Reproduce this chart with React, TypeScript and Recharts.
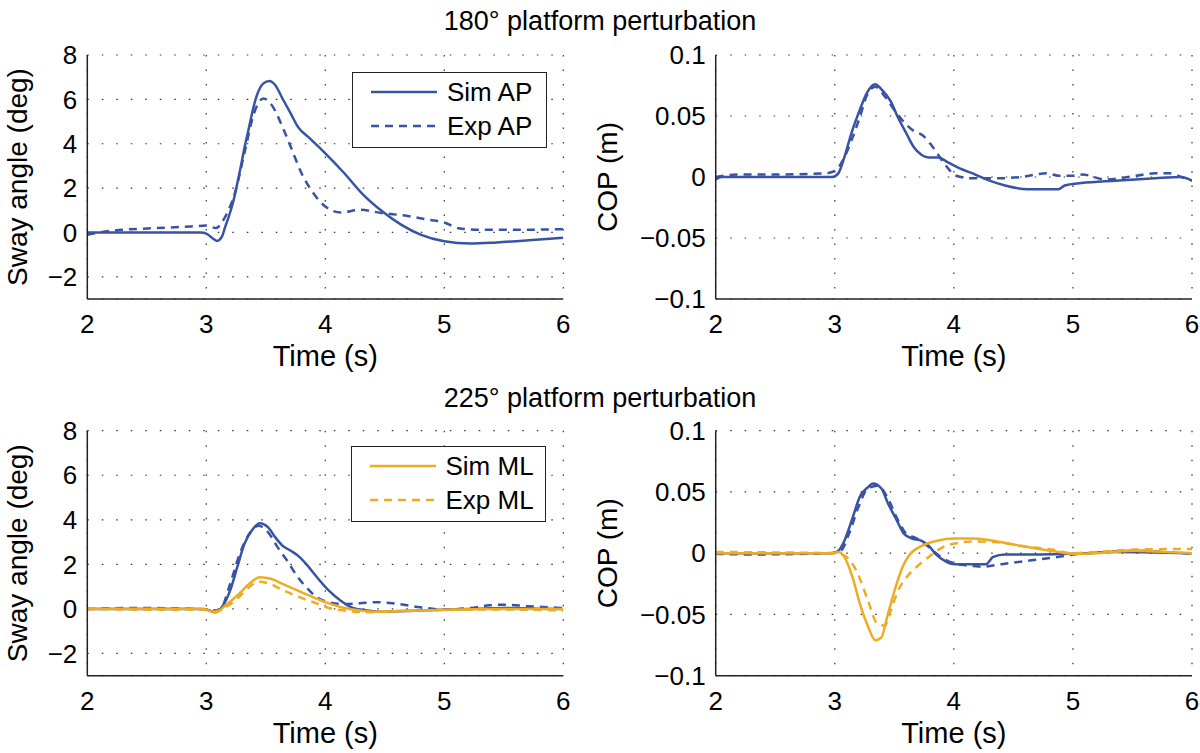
import { LineChart, Line, XAxis, YAxis, CartesianGrid, Legend } from "recharts";

const FONT = '"Liberation Sans", Arial, Helvetica, sans-serif';
const BLUE = "#3953a4";
const ORANGE = "#eeac24";
const INK = "#222";

const timeTicks = [2, 3, 4, 5, 6];
const swayTicks = [-2, 0, 2, 4, 6, 8];
const copTicks = [-0.1, -0.05, 0, 0.05, 0.1];

type Pt = [number, number];

// 180 deg perturbation: sway angle (deg)
const simAP180: Pt[] = [
  [2, 0], [2.5, 0], [2.95, 0], [3.0, -0.05], [3.05, -0.25], [3.09, -0.38], [3.13, -0.2],
  [3.16, 0.27], [3.2, 0.9], [3.23, 1.47], [3.26, 2.2], [3.29, 2.97], [3.32, 3.8], [3.36, 4.76],
  [3.39, 5.5], [3.42, 6.1], [3.45, 6.5], [3.48, 6.72], [3.53, 6.83], [3.58, 6.64], [3.64, 6.04],
  [3.71, 5.36], [3.77, 4.76], [3.87, 4.24], [4.0, 3.57], [4.16, 2.67], [4.32, 1.69], [4.48, 0.94],
  [4.64, 0.34], [4.8, -0.1], [5.0, -0.4], [5.22, -0.5], [5.44, -0.45], [5.77, -0.33], [6.0, -0.24],
];
const expAP180: Pt[] = [
  [2, -0.1], [2.1, 0], [2.23, 0.09], [2.55, 0.19], [2.87, 0.27], [3.0, 0.31], [3.08, 0.2],
  [3.16, 0.72], [3.24, 1.77], [3.32, 3.57], [3.4, 5.36], [3.48, 6.04], [3.56, 5.66], [3.64, 4.76],
  [3.72, 3.72], [3.8, 2.67], [3.9, 1.77], [4.0, 1.17], [4.13, 0.9], [4.29, 1.02], [4.48, 0.87],
  [4.67, 0.76], [4.87, 0.57], [5.0, 0.45], [5.12, 0.19], [5.28, 0.12], [5.6, 0.12], [6.0, 0.15],
];

// 180 deg perturbation: COP (m)
const simCOP180: Pt[] = [
  [2, -0.002], [2.05, 0], [2.5, 0], [2.98, 0], [3.03, 0.003], [3.08, 0.016], [3.14, 0.036],
  [3.21, 0.055], [3.27, 0.069], [3.34, 0.076], [3.4, 0.071], [3.47, 0.062], [3.53, 0.049],
  [3.6, 0.036], [3.66, 0.025], [3.73, 0.018], [3.79, 0.016], [3.87, 0.016], [3.95, 0.012],
  [4.05, 0.007], [4.18, 0.002], [4.3, -0.003], [4.43, -0.007], [4.62, -0.01], [4.88, -0.01],
  [4.93, -0.007], [5.07, -0.005], [5.36, -0.003], [5.69, -0.001], [5.91, 0], [6, -0.003],
];
const expCOP180: Pt[] = [
  [2, 0], [2.18, 0.002], [2.47, 0.002], [2.92, 0.003], [3.0, 0.005], [3.08, 0.016], [3.14, 0.03],
  [3.21, 0.049], [3.27, 0.067], [3.34, 0.074], [3.42, 0.066], [3.5, 0.055], [3.6, 0.043],
  [3.66, 0.038], [3.74, 0.034], [3.82, 0.025], [3.92, 0.011], [4.02, 0.001], [4.14, -0.001],
  [4.4, -0.001], [4.56, 0], [4.78, 0.003], [4.88, 0.001], [5.0, 0.001], [5.08, 0.002],
  [5.27, -0.002], [5.53, 0.001], [5.69, 0.003], [5.81, 0.003], [5.91, 0], [6, -0.003],
];

// 225 deg perturbation: sway angle (deg)
const simAP225: Pt[] = [
  [2, 0], [2.5, 0], [2.97, 0], [3.0, -0.03], [3.08, -0.15], [3.13, 0.07], [3.2, 0.82],
  [3.26, 1.87], [3.32, 2.91], [3.39, 3.58], [3.45, 3.85], [3.52, 3.66], [3.58, 3.21],
  [3.64, 2.84], [3.71, 2.61], [3.77, 2.39], [3.84, 2.01], [3.93, 1.42], [4.03, 0.82],
  [4.13, 0.37], [4.22, 0.07], [4.35, -0.07], [4.48, -0.13], [4.8, -0.07], [5.0, -0.04],
  [5.28, 0.01], [5.51, 0.04], [5.77, 0.01], [6.0, 0],
];
const expAP225: Pt[] = [
  [2, 0], [2.36, 0.04], [2.71, 0.03], [3.0, -0.03], [3.11, -0.07], [3.2, 1.12], [3.28, 2.46],
  [3.36, 3.36], [3.44, 3.73], [3.52, 3.43], [3.6, 2.76], [3.68, 2.16], [3.76, 1.49], [3.84, 0.97],
  [3.93, 0.52], [4.03, 0.3], [4.16, 0.22], [4.29, 0.25], [4.42, 0.3], [4.61, 0.22], [4.8, 0.07],
  [4.99, -0.03], [5.22, 0.04], [5.38, 0.16], [5.51, 0.19], [5.7, 0.12], [5.89, 0.07], [6.0, 0.04],
];
const simML225: Pt[] = [
  [2, 0], [2.87, 0.01], [2.97, 0], [3.08, -0.16], [3.16, 0.15], [3.26, 0.6], [3.36, 1.12],
  [3.45, 1.42], [3.55, 1.34], [3.64, 1.12], [3.77, 0.82], [3.9, 0.52], [4.03, 0.25], [4.16, 0.04],
  [4.29, -0.07], [4.42, -0.13], [4.61, -0.1], [4.8, -0.07], [5.0, -0.04], [5.44, -0.01], [6.0, -0.01],
];
const expML225: Pt[] = [
  [2, 0], [2.55, -0.04], [2.97, -0.03], [3.07, -0.12], [3.16, 0.07], [3.26, 0.45], [3.36, 0.97],
  [3.44, 1.22], [3.52, 1.15], [3.64, 0.85], [3.77, 0.55], [3.9, 0.3], [4.03, 0.04], [4.16, -0.07],
  [4.32, -0.15], [4.48, -0.12], [4.8, -0.07], [5.12, -0.04], [5.44, -0.03], [5.77, -0.04], [6.0, -0.09],
];

// 225 deg perturbation: COP (m)
const simCOPap225: Pt[] = [
  [2, 0], [2.98, 0], [3.03, 0.002], [3.08, 0.01], [3.15, 0.029], [3.21, 0.046], [3.28, 0.054],
  [3.32, 0.057], [3.39, 0.053], [3.45, 0.04], [3.52, 0.027], [3.58, 0.016], [3.65, 0.012],
  [3.73, 0.01], [3.79, 0.006], [3.85, -0.001], [3.92, -0.006], [4.01, -0.009], [4.14, -0.009],
  [4.27, -0.009], [4.33, -0.003], [4.43, -0.001], [4.72, -0.001], [5.0, -0.0005], [5.36, 0.001],
  [5.69, 0.0005], [6.0, 0],
];
const expCOPap225: Pt[] = [
  [2, -0.0005], [2.31, -0.001], [2.95, 0], [3.05, 0.002], [3.12, 0.016], [3.2, 0.038],
  [3.28, 0.053], [3.36, 0.055], [3.44, 0.046], [3.52, 0.029], [3.6, 0.016], [3.69, 0.012],
  [3.79, 0.005], [3.89, -0.003], [3.99, -0.008], [4.11, -0.01], [4.24, -0.011], [4.4, -0.009],
  [4.56, -0.007], [4.72, -0.005], [4.88, -0.003], [5.0, -0.001], [5.2, 0.0003], [5.52, 0.002],
  [5.77, 0.001], [6.0, -0.0005],
];
const simCOPml225: Pt[] = [
  [2, 0], [2.98, 0], [3.03, 0.001], [3.08, -0.003], [3.15, -0.02], [3.21, -0.041], [3.28, -0.06],
  [3.34, -0.071], [3.39, -0.069], [3.44, -0.052], [3.51, -0.028], [3.57, -0.011], [3.63, -0.001],
  [3.73, 0.006], [3.85, 0.01], [4.01, 0.012], [4.17, 0.012], [4.4, 0.009], [4.62, 0.005],
  [4.88, 0.001], [5.0, -0.0005], [5.2, 0], [5.52, 0.002], [5.77, 0.001], [6.0, 0],
];
const expCOPml225: Pt[] = [
  [2, 0.001], [2.63, 0.0005], [2.99, 0], [3.08, -0.002], [3.18, -0.014], [3.28, -0.039],
  [3.36, -0.058], [3.42, -0.059], [3.47, -0.047], [3.53, -0.031], [3.6, -0.02], [3.69, -0.011],
  [3.79, -0.003], [3.89, 0.004], [4.01, 0.008], [4.17, 0.0095], [4.36, 0.009], [4.56, 0.006],
  [4.82, 0.003], [5.0, 0], [5.2, 0.001], [5.52, 0.003], [6.0, 0.0035],
];

interface Series {
  name: string;
  pts: Pt[];
  color: string;
  dashed: boolean;
}

const toRows = (pts: Pt[]) => pts.map(([t, v]) => ({ t, v }));
const fmt = (v: number) => (v < 0 ? "\u2212" + Math.abs(v) : String(v));

function XTitle({ viewBox, text }: any) {
  const cx = viewBox.x + viewBox.width / 2;
  return (
    <text x={cx} y={viewBox.y + 67} textAnchor="middle" fontSize={29} fontFamily={FONT} fill="#000">
      {text}
    </text>
  );
}

function YTitle({ viewBox, text, baseX }: any) {
  const cy = viewBox.y + viewBox.height / 2;
  return (
    <text
      x={baseX}
      y={cy}
      transform={`rotate(-90 ${baseX} ${cy})`}
      textAnchor="middle"
      fontSize={28}
      fontFamily={FONT}
      fill="#000"
    >
      {text}
    </text>
  );
}

function LegendBox({ items }: { items: Series[] }) {
  return (
    <div
      style={{
        width: 195,
        height: 76,
        boxSizing: "border-box",
        border: `1.5px solid ${INK}`,
        background: "#fff",
        position: "relative",
        fontFamily: FONT,
        fontSize: 26,
        color: "#000",
      }}
    >
      {items.map((s, i) => (
        <div
          key={s.name}
          style={{ position: "absolute", left: 0, top: i * 34 + 2, height: 34, display: "flex", alignItems: "center" }}
        >
          <svg width={84} height={10}>
            <line
              x1={18}
              x2={84}
              y1={5}
              y2={5}
              stroke={s.color}
              strokeWidth={2.5}
              strokeDasharray={s.dashed ? "8 6" : undefined}
            />
          </svg>
          <span style={{ marginLeft: 10, lineHeight: "34px" }}>{s.name}</span>
        </div>
      ))}
    </div>
  );
}

interface PanelProps {
  left: number;
  top: number;
  width: number;
  height: number;
  marginTop: number;
  marginRight: number;
  yAxisWidth: number;
  xAxisHeight: number;
  yDomain: [number, number];
  yTicks: number[];
  yLabel: string;
  yLabelX: number;
  series: Series[];
  legend?: Series[];
  legendPos?: { left: number; top: number };
}

function Panel(p: PanelProps) {
  const tickStyle = { fill: "#000", fontSize: 26, fontFamily: FONT };
  return (
    <div style={{ position: "absolute", left: p.left, top: p.top }}>
      <LineChart
        width={p.width}
        height={p.height}
        margin={{ top: p.marginTop, right: p.marginRight, bottom: 0, left: 0 }}
      >
        <CartesianGrid stroke="#333" strokeWidth={1.2} strokeDasharray="1.5 13" />
        <XAxis
          dataKey="t"
          type="number"
          domain={[2, 6]}
          ticks={timeTicks}
          allowDataOverflow
          height={p.xAxisHeight}
          axisLine={{ stroke: INK, strokeWidth: 1.5 }}
          tickLine={false}
          tickSize={0}
          tickMargin={16}
          tick={tickStyle}
          label={<XTitle text="Time (s)" />}
        />
        <XAxis
          xAxisId="top"
          orientation="top"
          type="number"
          domain={[2, 6]}
          height={0}
          tick={false}
          tickLine={false}
          axisLine={{ stroke: INK, strokeWidth: 1.5 }}
        />
        <YAxis
          type="number"
          domain={p.yDomain}
          ticks={p.yTicks}
          allowDataOverflow
          width={p.yAxisWidth}
          axisLine={{ stroke: INK, strokeWidth: 1.5 }}
          tickLine={false}
          tickSize={0}
          tickMargin={10}
          tick={tickStyle}
          tickFormatter={fmt}
          label={<YTitle text={p.yLabel} baseX={p.yLabelX} />}
        />
        <YAxis
          yAxisId="right"
          orientation="right"
          type="number"
          domain={p.yDomain}
          width={0}
          tick={false}
          tickLine={false}
          axisLine={{ stroke: INK, strokeWidth: 1.5 }}
        />
        {p.series.map((s) => (
          <Line
            key={s.name}
            data={toRows(s.pts)}
            dataKey="v"
            name={s.name}
            type="monotone"
            stroke={s.color}
            strokeWidth={2.5}
            strokeDasharray={s.dashed ? "8 6" : undefined}
            dot={false}
            activeDot={false}
            isAnimationActive={false}
          />
        ))}
        {p.legend && p.legendPos && (
          <Legend
            layout="vertical"
            align="center"
            verticalAlign="middle"
            wrapperStyle={{ left: p.legendPos.left, top: p.legendPos.top, width: 195, height: 76 }}
            content={() => <LegendBox items={p.legend!} />}
          />
        )}
      </LineChart>
    </div>
  );
}

const sim180: Series = { name: "Sim AP", pts: simAP180, color: BLUE, dashed: false };
const exp180: Series = { name: "Exp AP", pts: expAP180, color: BLUE, dashed: true };
const simMLs: Series = { name: "Sim ML", pts: simML225, color: ORANGE, dashed: false };
const expMLs: Series = { name: "Exp ML", pts: expML225, color: ORANGE, dashed: true };

export default function App() {
  return (
    <div
      style={{
        position: "absolute",
        left: 0,
        top: 0,
        width: 1200,
        height: 753,
        background: "#fff",
        overflow: "hidden",
        fontFamily: FONT,
      }}
    >
      <svg width={1200} height={753} style={{ position: "absolute", left: 0, top: 0 }}>
        <text x={600} y={30} textAnchor="middle" fontSize={27} fontFamily={FONT} fill="#000">
          180° platform perturbation
        </text>
        <text x={600} y={406.5} textAnchor="middle" fontSize={27} fontFamily={FONT} fill="#000">
          225° platform perturbation
        </text>
      </svg>

      <Panel
        left={0}
        top={0}
        width={600}
        height={376}
        marginTop={55}
        marginRight={36.7}
        yAxisWidth={87.3}
        xAxisHeight={77}
        yDomain={[-3, 8]}
        yTicks={swayTicks}
        yLabel="Sway angle (deg)"
        yLabelX={27}
        series={[exp180, sim180]}
        legend={[sim180, exp180]}
        legendPos={{ left: 352, top: 72 }}
      />
      <Panel
        left={570}
        top={0}
        width={630}
        height={376}
        marginTop={55}
        marginRight={8}
        yAxisWidth={145.7}
        xAxisHeight={77}
        yDomain={[-0.1, 0.1]}
        yTicks={copTicks}
        yLabel="COP (m)"
        yLabelX={47}
        series={[
          { name: "Exp COP", pts: expCOP180, color: BLUE, dashed: true },
          { name: "Sim COP", pts: simCOP180, color: BLUE, dashed: false },
        ]}
      />
      <Panel
        left={0}
        top={376}
        width={600}
        height={377}
        marginTop={54.7}
        marginRight={36.7}
        yAxisWidth={87.3}
        xAxisHeight={77.3}
        yDomain={[-3, 8]}
        yTicks={swayTicks}
        yLabel="Sway angle (deg)"
        yLabelX={27}
        series={[
          { name: "Exp AP", pts: expAP225, color: BLUE, dashed: true },
          { name: "Sim AP", pts: simAP225, color: BLUE, dashed: false },
          expMLs,
          simMLs,
        ]}
        legend={[simMLs, expMLs]}
        legendPos={{ left: 350.5, top: 70 }}
      />
      <Panel
        left={570}
        top={376}
        width={630}
        height={377}
        marginTop={54.7}
        marginRight={8}
        yAxisWidth={145.7}
        xAxisHeight={77.3}
        yDomain={[-0.1, 0.1]}
        yTicks={copTicks}
        yLabel="COP (m)"
        yLabelX={47}
        series={[
          { name: "Exp AP COP", pts: expCOPap225, color: BLUE, dashed: true },
          { name: "Sim AP COP", pts: simCOPap225, color: BLUE, dashed: false },
          { name: "Exp ML COP", pts: expCOPml225, color: ORANGE, dashed: true },
          { name: "Sim ML COP", pts: simCOPml225, color: ORANGE, dashed: false },
        ]}
      />
    </div>
  );
}
